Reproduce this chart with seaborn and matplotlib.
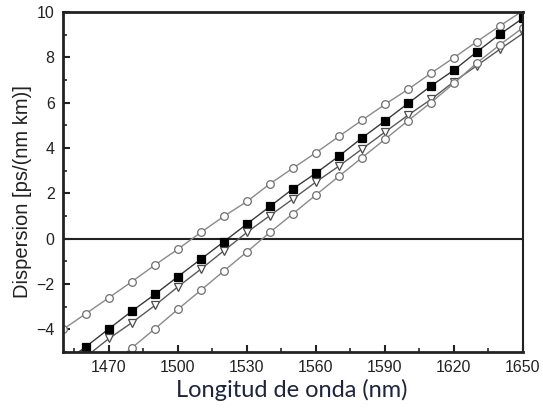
import pandas as pd
import numpy as np
import matplotlib.pyplot as plt
import seaborn as sns

# datos
wavelength = [1450, 1460, 1470, 1480, 1490, 1500, 1510, 1520, 1530, 1540, 1550,
              1560, 1570, 1580, 1590, 1600, 1610, 1620, 1630, 1640, 1650]
upper_circles = [-4.0, -3.3, -2.6, -1.89, -1.16, -0.46, 0.28, 0.99, 1.64, 2.42, 3.11,
                 3.79, 4.51, 5.22, 5.92, 6.58, 7.29, 7.98, 8.69, 9.38, 10.05]
squares = [-5.5, -4.76, -3.97, -3.19, -2.45, -1.67, -0.90, -0.13, 0.65, 1.42, 2.2,
           2.89, 3.64, 4.44, 5.19, 5.96, 6.73, 7.43, 8.24, 9.01, 9.72]
triangles = [-5.95, -5.2, -4.4, -3.7, -2.94, -2.12, -1.34, -0.53, 0.28, 1.02, 1.75,
             2.5, 3.2, 3.95, 4.7, 5.44, 6.14, 6.92, 7.63, 8.35, 9.05]
lower_circles = [-7.3, -6.5, -5.65, -4.81, -3.97, -3.11, -2.27, -1.42, -0.58, 0.28, 1.1,
                 1.93, 2.75, 3.57, 4.38, 5.2, 6.0, 6.85, 7.75, 8.55, 9.3]

sns.set_style('ticks')
plt.rcParams['font.family'] = ['Liberation Sans', 'DejaVu Sans']

fig = plt.figure(figsize=(5.43, 4.08), dpi=100)
ax = fig.add_axes([0.116, 0.137, 0.847, 0.834])

styles = [
    (upper_circles, 'o', '#8a8a8a', 'white', '#6f6f6f'),
    (squares, 's', '#3a3a3a', 'black', 'black'),
    (triangles, 'v', '#5a5a5a', 'white', '#4a4a4a'),
    (lower_circles, 'o', '#8a8a8a', 'white', '#6f6f6f'),
]
for vals, mk, lc, fc, ec in styles:
    sns.lineplot(x=wavelength, y=vals, ax=ax, color=lc, linewidth=1.0,
                 marker=mk, markersize=5.5, markerfacecolor=fc,
                 markeredgecolor=ec, markeredgewidth=0.9)

ax.axhline(0, color='#222222', linewidth=1.5, zorder=1)

ax.set_xlim(1450, 1650)
ax.set_ylim(-5, 10)
ax.set_xticks([1470, 1500, 1530, 1560, 1590, 1620, 1650])
ax.set_xticks(np.arange(1455, 1651, 15), minor=True)
ax.set_yticks([-4, -2, 0, 2, 4, 6, 8, 10])
ax.set_yticks([-5, -3, -1, 1, 3, 5, 7, 9], minor=True)
ax.tick_params(which='major', direction='in', length=5, width=1.5,
               labelsize=11.5, colors='#222222', pad=6)
ax.tick_params(which='minor', direction='in', length=3, width=1.2)
ax.tick_params(top=False, right=False, which='both')

for side in ['left', 'bottom', 'top']:
    ax.spines[side].set_linewidth(2.0)
    ax.spines[side].set_color('#222222')
ax.spines['right'].set_linewidth(1.5)
ax.spines['right'].set_color('#222222')

ax.set_ylabel('Dispersion [ps/(nm km)]', fontsize=14.5, color='#222222')
ax.yaxis.set_label_coords(-0.067, 0.472)
ax.set_xlabel('Longitud de onda (nm)', fontsize=17, color='#1c2440',
              family=['Lato', 'DejaVu Sans'])
ax.xaxis.set_label_coords(0.497, -0.078)

plt.savefig('out.png', dpi=100)
